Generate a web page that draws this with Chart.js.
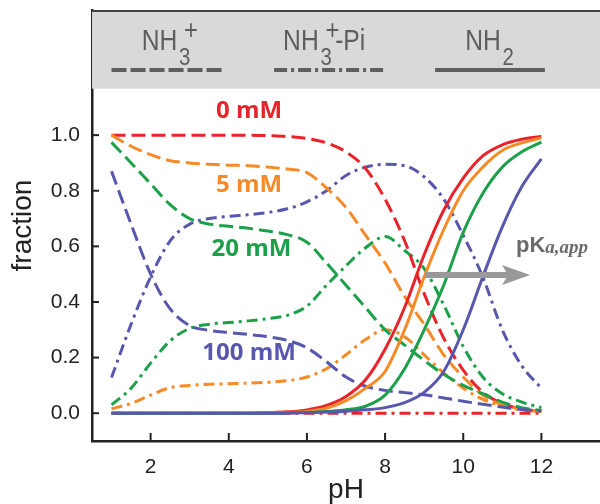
<!DOCTYPE html>
<html>
<head>
<meta charset="utf-8">
<script src="https://cdn.jsdelivr.net/npm/chart.js@4.4.0/dist/chart.umd.min.js"></script>
<style>
  html, body { margin: 0; padding: 0; background: #fff; }
  #chart { display: block; }
</style>
</head>
<body>
<canvas id="chart" width="600" height="504"></canvas>
<script>
// pH grid the curves were read on
const pH = [1, 1.5, 2, 2.5, 3, 3.5, 4, 4.5, 5, 5.5, 6, 6.5, 7, 7.5, 8, 8.5, 9, 9.5, 10, 10.5, 11, 11.5, 12];

// 0 mM phosphate
const nh3_0   = [1.0, 1.0, 1.0, 1.0, 1.0, 1.0, 1.0, 1.0, 0.998, 0.995, 0.988, 0.972, 0.94, 0.88, 0.77, 0.62, 0.43, 0.27, 0.155, 0.075, 0.035, 0.015, 0.006];
const pi_0    = [0, 0, 0, 0, 0, 0, 0, 0, 0, 0, 0, 0, 0, 0, 0, 0, 0, 0, 0, 0, 0, 0, 0];
const nh2_0   = [0, 0, 0, 0, 0, 0, 0, 0, 0.002, 0.005, 0.012, 0.028, 0.06, 0.12, 0.23, 0.38, 0.57, 0.73, 0.845, 0.925, 0.965, 0.985, 0.995];

// 5 mM
const nh3_5   = [1.0, 0.96, 0.93, 0.908, 0.9, 0.895, 0.892, 0.89, 0.885, 0.878, 0.865, 0.81, 0.74, 0.64, 0.54, 0.42, 0.32, 0.21, 0.13, 0.065, 0.03, 0.015, 0.006];
const pi_5    = [0.016, 0.035, 0.065, 0.092, 0.1, 0.104, 0.106, 0.108, 0.111, 0.117, 0.13, 0.16, 0.21, 0.265, 0.3, 0.275, 0.21, 0.145, 0.09, 0.05, 0.025, 0.012, 0.006];
const nh2_5   = [0, 0, 0, 0, 0, 0, 0, 0, 0.001, 0.003, 0.006, 0.018, 0.045, 0.09, 0.15, 0.3, 0.49, 0.66, 0.8, 0.885, 0.945, 0.972, 0.99];

// 20 mM
const nh3_20  = [0.974, 0.9, 0.825, 0.75, 0.7, 0.68, 0.672, 0.665, 0.655, 0.642, 0.615, 0.54, 0.46, 0.38, 0.3, 0.245, 0.19, 0.14, 0.1, 0.07, 0.04, 0.02, 0.01];
const pi_20   = [0.03, 0.09, 0.18, 0.26, 0.305, 0.32, 0.326, 0.332, 0.34, 0.352, 0.385, 0.46, 0.53, 0.595, 0.635, 0.585, 0.52, 0.39, 0.24, 0.13, 0.07, 0.04, 0.02];
const nh2_20  = [0, 0, 0, 0, 0, 0, 0, 0, 0, 0.002, 0.003, 0.006, 0.012, 0.025, 0.065, 0.16, 0.3, 0.46, 0.65, 0.79, 0.885, 0.94, 0.975];

// 100 mM
const nh3_100 = [0.87, 0.68, 0.5, 0.375, 0.315, 0.298, 0.29, 0.283, 0.275, 0.262, 0.235, 0.185, 0.13, 0.097, 0.082, 0.074, 0.066, 0.055, 0.043, 0.032, 0.022, 0.013, 0.008];
const pi_100  = [0.128, 0.32, 0.49, 0.62, 0.68, 0.7, 0.708, 0.714, 0.722, 0.735, 0.76, 0.8, 0.855, 0.885, 0.895, 0.89, 0.85, 0.77, 0.64, 0.49, 0.3, 0.17, 0.09];
const nh2_100 = [0, 0, 0, 0, 0, 0, 0, 0, 0, 0, 0.002, 0.004, 0.007, 0.012, 0.02, 0.038, 0.075, 0.15, 0.3, 0.49, 0.67, 0.815, 0.915];

const concLabels = ['0 mM', '5 mM', '20 mM', '100 mM'];
const species = ['NH3+', 'NH3+-Pi', 'NH2'];
const xTicks = [2, 4, 6, 8, 10, 12];
const yTicks = [0, 0.2, 0.4, 0.6, 0.8, 1.0];

const colors = ['rgb(233,35,42)', 'rgb(246,138,38)', 'rgb(28,160,74)', 'rgb(86,87,173)'];
const dashes = [[14, 6], [11, 5, 3, 5], []];
const BAND_FROM = 1.167;

const bySpecies = [
  [nh3_0, nh3_5, nh3_20, nh3_100],
  [pi_0, pi_5, pi_20, pi_100],
  [nh2_0, nh2_5, nh2_20, nh2_100]
];

// solids on top, dash-dots at the bottom (dataset 0 is drawn last)
const datasets = [];
[2, 0, 1].forEach(function (s) {
  [3, 2, 1, 0].forEach(function (c) {
    datasets.push({
      label: concLabels[c] + ' ' + species[s],
      data: pH.map((x, i) => ({ x: x, y: bySpecies[s][c][i] })),
      borderColor: colors[c],
      borderWidth: 3,
      borderDash: dashes[s],
      pointRadius: 0,
      fill: false,
      cubicInterpolationMode: 'monotone'
    });
  });
});

const FONT = '"Liberation Sans", Arial, sans-serif';

function drawFormula(ctx, px, py, main, sub, sup, tail) {
  ctx.save();
  ctx.translate(px, py);
  ctx.scale(0.85, 1);
  ctx.textAlign = 'left';
  ctx.textBaseline = 'alphabetic';
  ctx.font = '29px ' + FONT;
  ctx.fillText(main, 0, 0);
  let cx = ctx.measureText(main).width + 2;
  ctx.font = '24px ' + FONT;
  ctx.fillText(sub, cx, 15);
  const sw = ctx.measureText(sub).width;
  if (sup) {
    ctx.font = '28px ' + FONT;
    ctx.fillText(sup, cx + 6, -11);
  }
  if (tail) {
    ctx.font = '29px ' + FONT;
    ctx.fillText(tail, cx + sw + 4, 0);
  }
  ctx.restore();
}

const overlay = {
  id: 'overlay',
  beforeDatasetsDraw(chart) {
    const { ctx, chartArea: a, scales: { y } } = chart;
    ctx.save();
    ctx.fillStyle = '#d9d9d9';
    ctx.fillRect(a.left, a.top, a.right - a.left, y.getPixelForValue(BAND_FROM) - a.top);
    ctx.restore();
  },
  afterDraw(chart) {
    const { ctx, chartArea: a, scales: { x, y } } = chart;
    ctx.save();

    // top frame line
    ctx.strokeStyle = '#444';
    ctx.lineWidth = 2;
    ctx.beginPath();
    ctx.moveTo(a.left, a.top + 1);
    ctx.lineTo(a.right, a.top + 1);
    ctx.stroke();

    // inward tick marks
    ctx.strokeStyle = '#222';
    ctx.lineWidth = 2;
    xTicks.forEach(function (v) {
      const px = x.getPixelForValue(v);
      ctx.beginPath();
      ctx.moveTo(px, a.bottom);
      ctx.lineTo(px, a.bottom - 8);
      ctx.stroke();
    });
    yTicks.forEach(function (v) {
      const py = y.getPixelForValue(v);
      ctx.beginPath();
      ctx.moveTo(a.left, py);
      ctx.lineTo(a.left + 7, py);
      ctx.stroke();
    });

    // legend in the grey band
    const lineY = y.getPixelForValue(1.234);
    const textY = y.getPixelForValue(1.306);
    const legend = [
      { from: 1.0, to: 3.82, dash: [15, 4], at: 1.77, main: 'NH', sub: '3', sup: '+', tail: '' },
      { from: 5.16, to: 7.97, dash: [13, 4, 3, 4], at: 5.39, main: 'NH', sub: '3', sup: '+', tail: '-Pi' },
      { from: 9.28, to: 12.09, dash: [], at: 10.05, main: 'NH', sub: '2', sup: '', tail: '' }
    ];
    legend.forEach(function (it) {
      ctx.strokeStyle = '#5e5e5e';
      ctx.lineWidth = 4;
      ctx.setLineDash(it.dash);
      ctx.beginPath();
      ctx.moveTo(x.getPixelForValue(it.from), lineY);
      ctx.lineTo(x.getPixelForValue(it.to), lineY);
      ctx.stroke();
      ctx.setLineDash([]);
      ctx.fillStyle = '#5e5e5e';
      drawFormula(ctx, x.getPixelForValue(it.at), textY, it.main, it.sub, it.sup, it.tail);
    });

    // concentration labels
    const labelPos = [[4.52, 1.087], [4.52, 0.819], [4.58, 0.59], [4.52, 0.216]];
    ctx.font = 'bold 24px "Open Sans", ' + FONT;
    ctx.textAlign = 'center';
    ctx.textBaseline = 'middle';
    concLabels.forEach(function (t, i) {
      ctx.fillStyle = colors[i];
      ctx.fillText(t, x.getPixelForValue(labelPos[i][0]), y.getPixelForValue(labelPos[i][1]));
    });

    // pKa,app arrow
    const ay = y.getPixelForValue(0.497);
    const ax0 = x.getPixelForValue(9.02);
    const ax1 = x.getPixelForValue(11.71);
    ctx.strokeStyle = '#999';
    ctx.fillStyle = '#999';
    ctx.lineWidth = 6;
    ctx.beginPath();
    ctx.moveTo(ax0, ay);
    ctx.lineTo(ax1 - 20, ay);
    ctx.stroke();
    ctx.beginPath();
    ctx.moveTo(ax1, ay);
    ctx.lineTo(ax1 - 28, ay - 10);
    ctx.lineTo(ax1 - 22, ay);
    ctx.lineTo(ax1 - 28, ay + 10);
    ctx.closePath();
    ctx.fill();

    const tx = x.getPixelForValue(11.35);
    const ty = y.getPixelForValue(0.581);
    ctx.fillStyle = '#6a6a6a';
    ctx.textAlign = 'left';
    ctx.textBaseline = 'alphabetic';
    ctx.font = 'bold 22px ' + FONT;
    ctx.fillText('pK', tx, ty);
    const kw = ctx.measureText('pK').width;
    ctx.font = 'italic bold 19px "Liberation Serif", "Times New Roman", serif';
    ctx.fillText('a,app', tx + kw, ty + 1);

    ctx.restore();
  }
};

new Chart(document.getElementById('chart').getContext('2d'), {
  type: 'line',
  data: { datasets: datasets },
  options: {
    responsive: false,
    animation: false,
    layout: { padding: { top: 10, right: 0, left: 0, bottom: 0 } },
    plugins: { legend: { display: false }, tooltip: { enabled: false } },
    scales: {
      x: {
        type: 'linear',
        min: 0.5,
        max: 13.5,
        afterFit: function (scale) {
          scale.height = 63;
          scale.paddingLeft = 0;
          scale.paddingRight = 0;
        },
        afterBuildTicks: function (scale) { scale.ticks = xTicks.map(v => ({ value: v })); },
        grid: { display: false, drawTicks: false },
        border: { display: true, color: '#222', width: 2.5 },
        ticks: { color: '#222', font: { family: FONT, size: 21 }, padding: 14, maxRotation: 0 },
        title: { display: true, text: 'pH', color: '#222', font: { family: FONT, size: 28, lineHeight: 1 }, padding: { top: 0, bottom: 0 } }
      },
      y: {
        min: -0.1,
        max: 1.45,
        afterFit: function (scale) {
          scale.width = 92;
          scale.paddingTop = 0;
          scale.paddingBottom = 0;
        },
        afterBuildTicks: function (scale) { scale.ticks = yTicks.map(v => ({ value: v })); },
        grid: { display: false, drawTicks: false },
        border: { display: true, color: '#222', width: 2.5 },
        ticks: { color: '#222', font: { family: FONT, size: 21 }, padding: 12, callback: v => v.toFixed(1) },
        title: { display: true, text: 'fraction', color: '#222', font: { family: FONT, size: 28, lineHeight: 1 }, padding: { top: 9, bottom: 0 } }
      }
    }
  },
  plugins: [overlay]
});
</script>
</body>
</html>
